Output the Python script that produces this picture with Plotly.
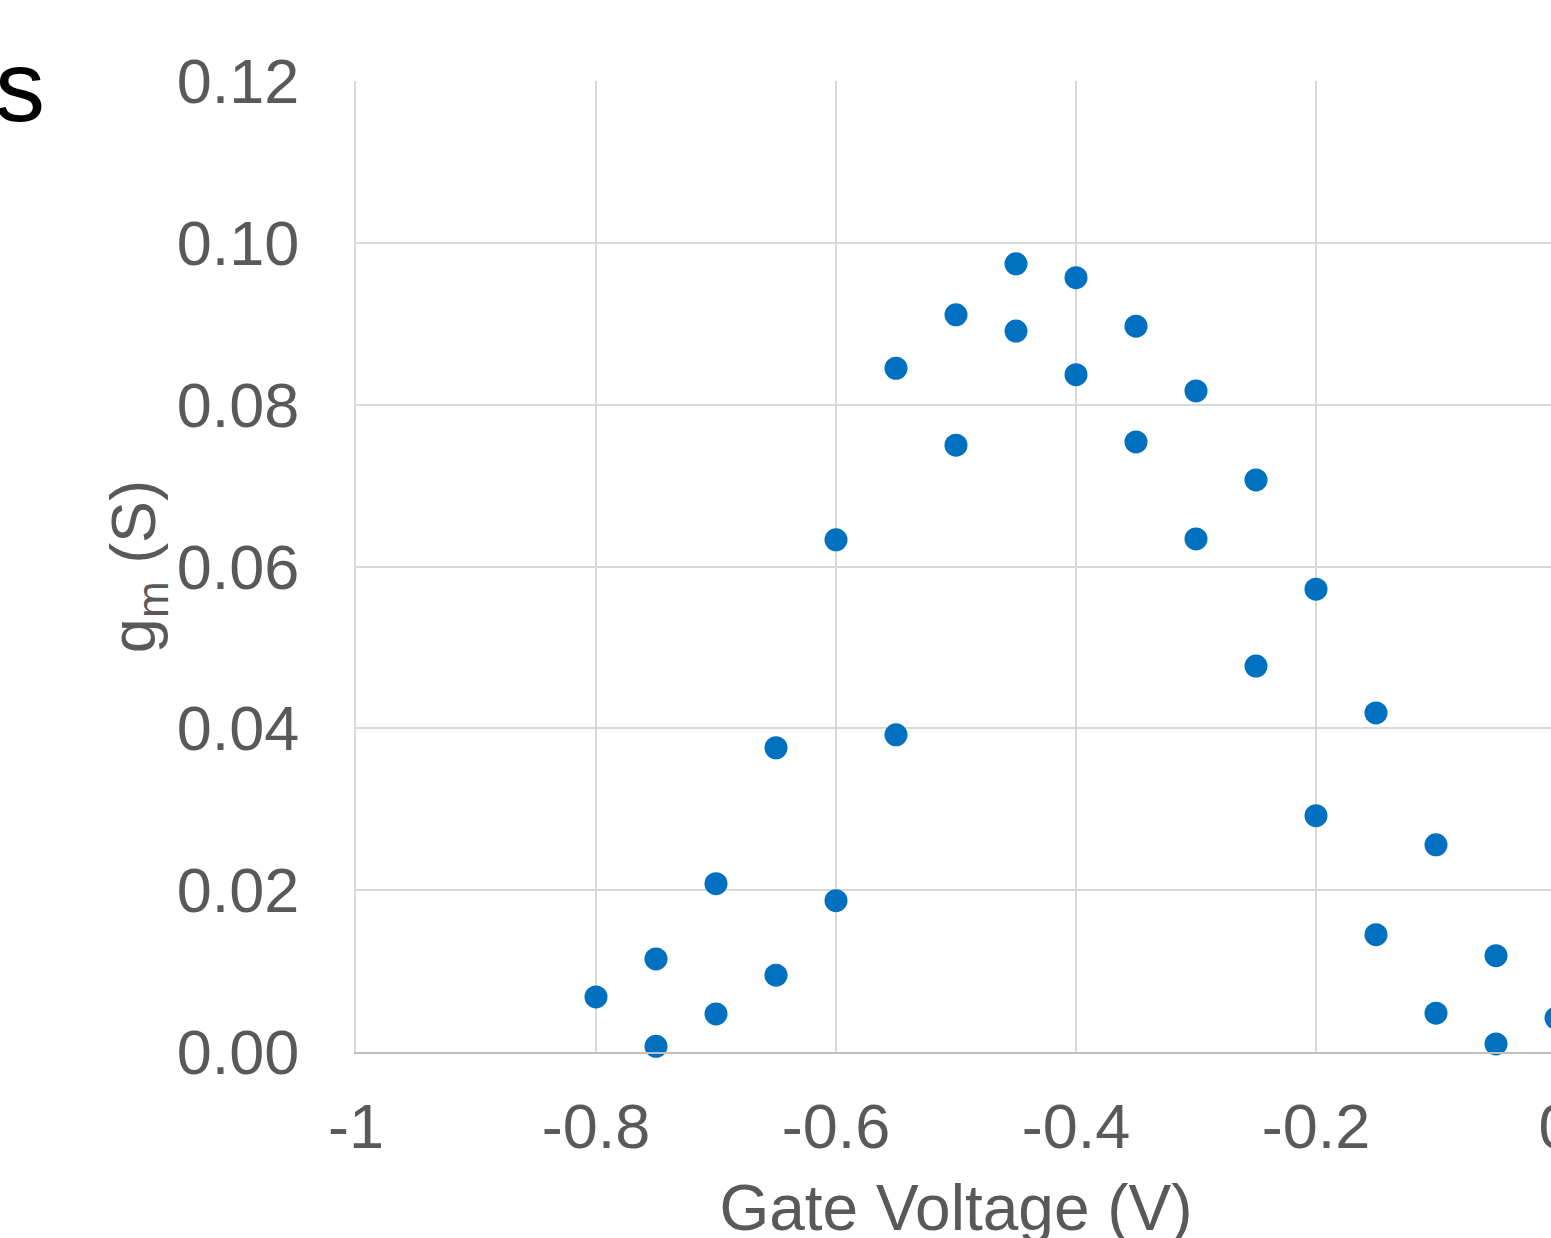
import plotly.graph_objects as go

# Gate voltage (V) and transconductance g_m (S)
gate_voltage = [-0.8, -0.75, -0.75, -0.7, -0.7, -0.65, -0.65, -0.6, -0.6,
                -0.55, -0.55, -0.5, -0.5, -0.45, -0.45, -0.4, -0.4,
                -0.35, -0.35, -0.3, -0.3, -0.25, -0.25, -0.2, -0.2,
                -0.15, -0.15, -0.1, -0.1, -0.05, -0.05, 0.0]
gm = [0.0068, 0.0115, 0.0007, 0.0208, 0.0047, 0.0376, 0.0095, 0.0633, 0.0187,
      0.0845, 0.0392, 0.0911, 0.0750, 0.0974, 0.0891, 0.0957, 0.0837,
      0.0897, 0.0754, 0.0817, 0.0634, 0.0707, 0.0477, 0.0572, 0.0292,
      0.0419, 0.0145, 0.0256, 0.0048, 0.0119, 0.0010, 0.0042]

x_ticks = [-1, -0.8, -0.6, -0.4, -0.2, 0]
x_tick_text = ["-1", "-0.8", "-0.6", "-0.4", "-0.2", "0"]
y_ticks = [0.00, 0.02, 0.04, 0.06, 0.08, 0.10, 0.12]
y_tick_text = ["0.00", "0.02", "0.04", "0.06", "0.08", "0.10", "0.12"]

# The original chart is larger than the visible window; it is cropped at right and bottom.
W, H = 1600, 1270
ML, MT, MB, MR = 356, 81, 218, 44

grey = "#595959"
grid = "#d9d9d9"
font_family = "Liberation Sans, Arial, sans-serif"

fig = go.Figure()
fig.add_trace(go.Scatter(
    x=gate_voltage, y=gm, mode="markers",
    marker=dict(color="#0070C0", size=23, line=dict(width=0)),
    cliponaxis=False, showlegend=False,
))

fig.update_layout(
    width=W, height=H,
    margin=dict(l=ML, r=MR, t=MT, b=MB, pad=0),
    paper_bgcolor="white", plot_bgcolor="white",
    font=dict(family=font_family, color=grey, size=63),
    xaxis=dict(
        range=[-1, 0], tickvals=x_ticks, ticktext=x_tick_text,
        showgrid=True, gridcolor=grid, gridwidth=2,
        showline=True, linecolor="#bfbfbf", linewidth=2,
        zeroline=False, ticks="", ticklabelstandoff=18,
        tickfont=dict(size=63, color=grey),
        title=dict(text="Gate Voltage (V)", font=dict(size=64, color=grey), standoff=26),
        automargin=False,
    ),
    yaxis=dict(
        range=[0, 0.12], tickvals=y_ticks, ticktext=y_tick_text,
        showgrid=True, gridcolor=grid, gridwidth=2,
        showline=True, linecolor=grid, linewidth=2,
        zeroline=False, ticks="", ticklabelstandoff=42,
        tickfont=dict(size=63, color=grey),
        title=dict(text="g<sub>m</sub> (S)", font=dict(size=63, color=grey), standoff=0),
        automargin=False,
    ),
)

# panel letter fragment at top-left
fig.add_annotation(
    x=0, y=1, xref="paper", yref="paper", xshift=-ML + 20, yshift=-5,
    text="s", showarrow=False, xanchor="center", yanchor="middle",
    font=dict(size=100, color="black", family=font_family),
)

fig.write_html(
    "out.html",
    post_script="document.body.style.overflow='hidden';"
                "document.documentElement.style.overflow='hidden';",
)
